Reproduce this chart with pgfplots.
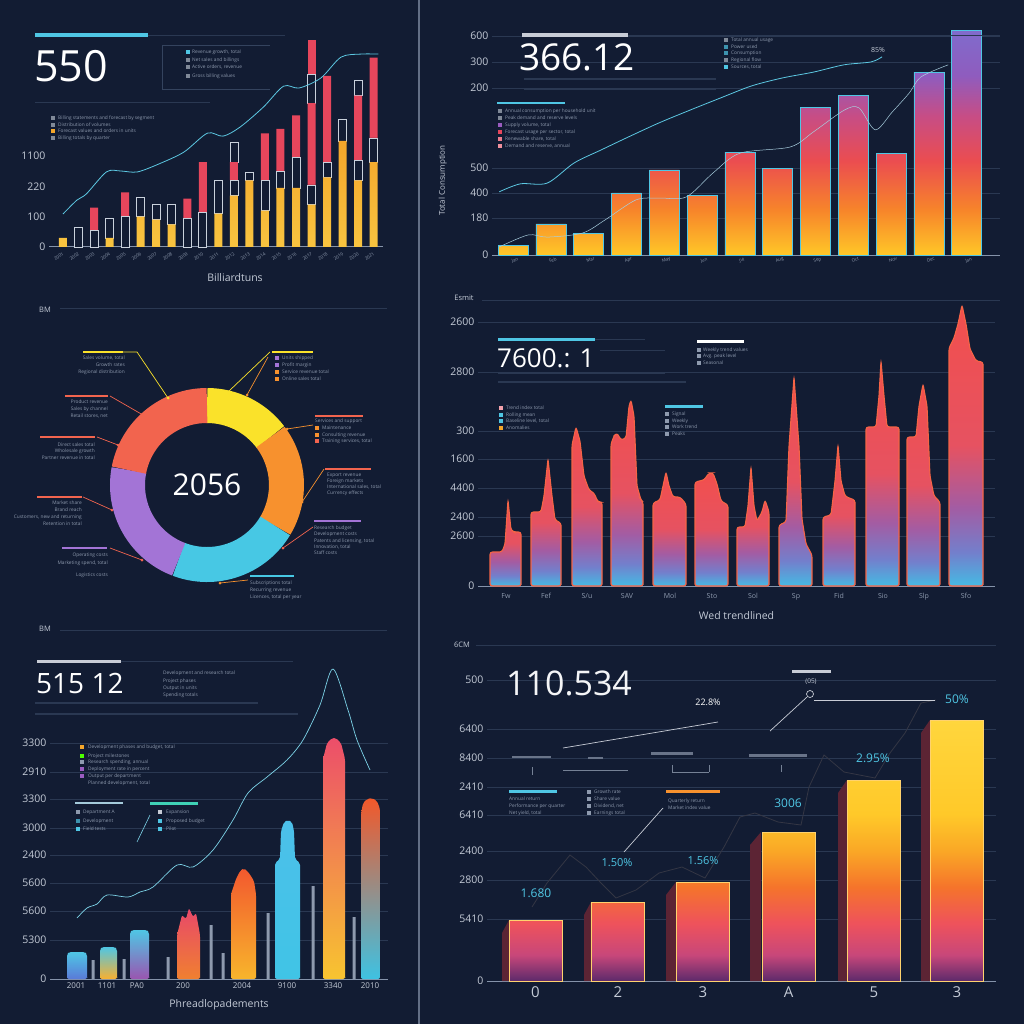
\documentclass[border=0pt]{standalone}
\usepackage{fontspec}
\setmainfont{Open Sans}
\usepackage{pgfplots}
\usepackage{pgfplotstable}
\pgfplotsset{compat=1.18}

\definecolor{bg}{HTML}{121C33}
\definecolor{gridc}{HTML}{2A3852}
\definecolor{boxc}{HTML}{34435E}
\definecolor{axc}{HTML}{8593AA}
\definecolor{tickc}{HTML}{C3CAD6}
\definecolor{faint}{HTML}{8E9AAE}
\definecolor{cyanl}{HTML}{5CC8E2}
\definecolor{cbar}{HTML}{4FC6E4}
\definecolor{orng}{HTML}{F4A62A}
\definecolor{orng2}{HTML}{F8C440}
\definecolor{redb}{HTML}{E6465C}
\definecolor{hol}{HTML}{C9D1DC}
\definecolor{yel}{HTML}{FFC928}
\definecolor{pur}{HTML}{9A5CC0}
\definecolor{coral}{HTML}{F2664B}
\definecolor{donutY}{HTML}{FAE22A}
\definecolor{donutO}{HTML}{F7912E}
\definecolor{donutC}{HTML}{47C8E4}
\definecolor{donutP}{HTML}{A374D6}
\definecolor{donutR}{HTML}{F2644E}
\definecolor{lgrey}{HTML}{C8CCD6}
\definecolor{spkline}{HTML}{F56446}
\definecolor{side}{HTML}{5C2434}
\definecolor{fedge}{HTML}{FFD26E}
\definecolor{dline}{HTML}{343644}
% shading stops
\definecolor{fb0}{HTML}{5C2A6B}
\definecolor{fb1}{HTML}{C8477A}
\definecolor{fb2}{HTML}{EE525C}
\definecolor{fb3}{HTML}{F5742B}
\definecolor{fb4}{HTML}{FAA826}
\definecolor{fb5}{HTML}{FFC929}
\definecolor{fb6}{HTML}{FFD63D}
\definecolor{pb0}{HTML}{FFC728}
\definecolor{pb1}{HTML}{F7852A}
\definecolor{pb2}{HTML}{EB4D50}
\definecolor{pb3}{HTML}{C74D85}
\definecolor{pb4}{HTML}{8F5CBE}
\definecolor{pb5}{HTML}{806BCC}
\definecolor{sb0}{HTML}{45BAE3}
\definecolor{sb1}{HTML}{737FCC}
\definecolor{sb2}{HTML}{A35CA3}
\definecolor{sb3}{HTML}{E65261}
\definecolor{sb4}{HTML}{F24F4D}

% shadings: visible part of the path runs from 25bp (bottom) to 75bp (top)
\pgfdeclareverticalshading{fbar}{100bp}{color(0bp)=(fb0); color(25bp)=(fb0);
  color(30bp)=(fb1); color(36bp)=(fb2); color(43bp)=(fb3); color(50bp)=(fb4);
  color(57bp)=(fb5); color(75bp)=(fb6); color(100bp)=(fb6)}
\pgfdeclareverticalshading{pbar}{100bp}{color(0bp)=(pb0); color(25bp)=(pb0);
  color(35bp)=(pb1); color(46bp)=(pb2); color(56bp)=(pb3); color(65bp)=(pb4);
  color(75bp)=(pb5); color(100bp)=(pb5)}
\pgfdeclareverticalshading{sbar}{100bp}{color(0bp)=(sb0); color(25bp)=(sb0);
  color(31bp)=(sb1); color(39bp)=(sb2); color(50bp)=(sb3); color(75bp)=(sb4);
  color(100bp)=(sb4)}

\newcommand\row[4]{\node[anchor=west,inner sep=0pt,text=#4,font=\fontsize{4.8}{5}\selectfont] at (#1,#2) {#3};}
\newcommand\rowe[4]{\node[anchor=east,inner sep=0pt,text=#4,font=\fontsize{4.8}{5}\selectfont] at (#1,#2) {#3};}
\newcommand\sq[3]{\fill[#3] (#1-2.2,#2-1.6) rectangle (#1+2.2,#2+1.6);}

\pgfplotsset{
  panel/.style={
    scale only axis, anchor=south west, clip=false,
    axis x line*=bottom, axis y line*=left,
    x axis line style={draw=axc, line width=1pt, -},
    y axis line style={draw=none},
    major tick length=0pt,
    tick label style={text=tickc, font=\fontsize{10.5}{12}\selectfont},
    ymajorgrids, grid style={draw=gridc, line width=0.6pt},
    xlabel style={text=tickc, font=\fontsize{10.5}{12}\selectfont},
    ylabel style={text=tickc, font=\fontsize{8}{9}\selectfont},
  },
  overlay/.style={scale only axis, anchor=south west, hide axis, clip=false},
}

% ---------- data ----------
\pgfplotstableread{
i o h r hh rr
0 30 0 0 0 0
1 0 65 0 0 0
2 0 55 75 0 0
3 30 65 0 0 0
4 0 100 80 0 0
5 100 65 0 0 0
6 90 50 0 0 0
7 75 65 0 0 0
8 0 95 65 0 0
9 0 115 165 0 0
10 110 110 0 0 0
11 170 50 60 65 0
12 220 25 0 0 0
13 120 100 155 0 0
14 195 55 140 0 0
15 195 100 140 0 0
16 140 65 270 95 115
17 230 50 285 0 0
18 350 70 0 0 0
19 220 65 215 50 0
20 280 80 265 0 0
}\pone

\begin{document}
\begin{tikzpicture}
\useasboundingbox (0pt,0pt) rectangle (1024pt,-1024pt);
\fill[bg] (0pt,0pt) rectangle (1024pt,-1024pt);
\begin{scope}[x=1pt,y=-1pt]
\draw[color=axc!70!bg, line width=1.6pt] (419,0) -- (419,1024);
\end{scope}

% ================= PANEL 1 =================
\begin{axis}[panel, at={(49pt,-247pt)}, width=334pt, height=212pt,
  xmin=-0.9, xmax=20.6, ymin=0, ymax=700,
  ybar stacked, bar width=8pt, ymajorgrids=false,
  ytick={0,100,200,300}, yticklabels={0,100,220,1100},
  xtick={0,...,20},
  xticklabels={2001,2002,2003,2004,2005,2006,2007,2008,2009,2010,2011,2012,2013,2014,2015,2016,2017,2018,2019,2020,2021},
  xticklabel style={rotate=35, anchor=north east, font=\fontsize{4.5}{5}\selectfont, text=faint},
  xlabel={Billiardtuns}, xlabel style={at={(axis description cs:0.557,0)}, anchor=center, yshift=-31pt}]
\addplot[draw=none, top color=orng, bottom color=orng2] table[x=i,y=o] {\pone};
\addplot[fill=bg, draw=hol, line width=0.7pt] table[x=i,y=h] {\pone};
\addplot[fill=redb, draw=none] table[x=i,y=r] {\pone};
\addplot[fill=bg, draw=hol, line width=0.7pt] table[x=i,y=hh] {\pone};
\addplot[fill=redb, draw=none] table[x=i,y=rr] {\pone};
\end{axis}
\begin{axis}[overlay, at={(49pt,-247pt)}, width=334pt, height=212pt,
  xmin=-0.9, xmax=20.6, ymin=0, ymax=700]
\addplot[cyanl, line width=0.8pt, smooth, mark=none] coordinates {
 (0,109) (0.9,155) (1.5,175) (2.8,248) (3.7,251) (4.8,248) (6.3,277) (7.8,314)
 (9.3,376) (10.3,366) (11.4,396) (12.9,462) (14.2,531) (15.2,525) (16.6,558)
 (17.9,627) (19.2,637) (20.3,637)};
\end{axis}

% ================= PANEL 2 =================
\begin{axis}[panel, at={(492pt,-255pt)}, width=508pt, height=219pt,
  xmin=-0.56, xmax=12.88, ymin=0, ymax=600,
  ytick={0,101,170,238,458,529,600}, yticklabels={0,180,400,500,200,300,600},
  xtick={0,...,12},
  xticklabels={Jan,Feb,Mar,Apr,May,Jun,Jul,Aug,Sep,Oct,Nov,Dec,Jan},
  xticklabel style={rotate=20, anchor=north, font=\fontsize{4.5}{5}\selectfont, text=faint},
  ylabel={Total Consumption}, ylabel style={at={(axis description cs:-0.097,0.34)}, anchor=center}]
\addplot[ybar, bar width=30pt, bar shift=0pt, draw=cbar, line width=0.9pt, shading=pbar] coordinates {
 (0,27) (1,85) (2,60) (3,170) (4,233) (5,162) (6,282) (7,238) (8,403) (9,438) (10,279) (11,501) (12,614)};
\addplot[cyanl, line width=0.8pt, smooth, mark=none] coordinates {
 (-0.37,173) (0.19,195) (0.9,197) (1.61,252) (2.33,288) (3.04,323) (3.86,362) (4.68,397)
 (5.48,430) (6.3,463) (7.12,485) (7.94,501) (8.75,521) (9.47,529) (9.76,543)};
\addplot[hol!70!cyanl, line width=0.5pt, smooth, mark=none] coordinates {
 (-0.37,22) (0.4,55) (0.9,49) (1.83,60) (2.43,96) (3.25,151) (3.86,156) (4.58,159)
 (5.29,225) (6.0,279) (7.33,296) (7.94,337) (8.76,397) (9.15,403) (9.58,343)
 (10.03,392) (10.48,444) (10.79,488) (11.51,521)};
\end{axis}

% ================= PANEL 3 (donut) =================
\begin{axis}[at={(207pt,-485pt)}, anchor=center, hide axis, x=1pt, y=1pt,
  xmin=-100, xmax=100, ymin=-100, ymax=100, clip=false]
% shares: 14.7, 18.9, 22.2, 22.2, 22.0 percent, clockwise from top
\draw[donutY, line width=35pt] (axis cs:0,0) ++(90:79.5pt) arc[start angle=90, end angle=37.08, radius=79.5pt];
\draw[donutO, line width=35pt] (axis cs:0,0) ++(37.08:79.5pt) arc[start angle=37.08, end angle=-30.96, radius=79.5pt];
\draw[donutC, line width=35pt] (axis cs:0,0) ++(-30.96:79.5pt) arc[start angle=-30.96, end angle=-110.88, radius=79.5pt];
\draw[donutP, line width=35pt] (axis cs:0,0) ++(-110.88:79.5pt) arc[start angle=-110.88, end angle=-190.8, radius=79.5pt];
\draw[donutR, line width=35pt] (axis cs:0,0) ++(-190.8:79.5pt) arc[start angle=-190.8, end angle=-270, radius=79.5pt];
\node[text=white, font=\fontsize{30}{30}\selectfont] at (axis cs:0,0) {2056};
\end{axis}

% ================= PANEL 4 =================
\begin{axis}[panel, at={(478pt,-586pt)}, width=517pt, height=286pt,
  xmin=478, xmax=995, ymin=0, ymax=2860,
  ytick={0,500,690,980,1270,1550,2140,2640},
  yticklabels={0,2600,2400,4400,1600,300,2800,2600},
  xtick={506,546,587,627,670,712,753,796,839,883,924,966},
  xticklabels={Fw,Fef,S/u,SAV,Mol,Sto,Sol,Sp,Fid,Sio,Slp,Sfo},
  xticklabel style={font=\fontsize{7}{8}\selectfont, text=faint, yshift=-4pt},
  xlabel={Wed trendlined}, xlabel style={at={(axis description cs:0.5,0)}, anchor=center, yshift=-30pt},
  spike/.style={draw=spkline, line width=1.1pt, rounded corners=2.5pt, shading=sbar}]
\addplot[spike] coordinates {(490,0) (490,340) (502,340) (505,420) (508,860) (511,560) (514,540) (521,540) (521,0)} \closedcycle;
\addplot[spike] coordinates {(531,0) (531,740) (541,740) (544,900) (548,1270) (552,900) (555,660) (561,630) (561,0)} \closedcycle;
\addplot[spike] coordinates {(572,0) (572,1410) (576,1590) (580,1450) (584,1100) (589,960) (594,930) (598,840) (602,840) (602,0)} \closedcycle;
\addplot[spike] coordinates {(611,0) (611,1420) (614,1500) (617,1530) (621,1460) (626,1480) (629,1800) (631,1860) (634,1700) (637,1000) (641,860) (643,840) (643,0)} \closedcycle;
\addplot[spike] coordinates {(653,0) (653,830) (660,860) (663,1000) (666,1140) (669,1000) (673,890) (680,890) (686,820) (686,0)} \closedcycle;
\addplot[spike] coordinates {(695,0) (695,1040) (704,1060) (709,1130) (713,1130) (717,1020) (721,850) (728,810) (728,0)} \closedcycle;
\addplot[spike] coordinates {(737,0) (737,590) (745,590) (748,800) (751,1190) (754,800) (757,650) (762,740) (765,860) (769,740) (769,0)} \closedcycle;
\addplot[spike] coordinates {(779,0) (779,610) (786,640) (789,1400) (794,2090) (799,1400) (802,670) (806,420) (812,310) (812,0)} \closedcycle;
\addplot[spike] coordinates {(823,0) (823,690) (831,710) (835,1050) (838,1410) (841,1050) (845,900) (849,880) (855,860) (855,0)} \closedcycle;
\addplot[spike] coordinates {(866,0) (866,1590) (876,1590) (879,1900) (881,2250) (884,1900) (887,1590) (899,1590) (899,0)} \closedcycle;
\addplot[spike] coordinates {(907,0) (907,1490) (916,1490) (919,1800) (923,2020) (927,1800) (930,1100) (934,900) (940,840) (940,0)} \closedcycle;
\addplot[spike] coordinates {(949,0) (949,2380) (954,2480) (958,2620) (962,2810) (966,2620) (970,2370) (976,2250) (983,2240) (983,0)} \closedcycle;
\end{axis}

% ================= PANEL 5 =================
\begin{axis}[panel, at={(50pt,-979pt)}, width=338pt, height=319pt,
  xmin=50, xmax=388, ymin=0, ymax=3190,
  ytick={0,390,680,960,1240,1510,1800,2070,2360},
  yticklabels={0,5300,5600,5600,2400,3000,3300,2910,3300},
  xtick={76,107,137,183,242,287,333,370},
  xticklabels={2001,1101,PA0,200,2004,9100,3340,2010},
  xticklabel style={font=\fontsize{8}{9}\selectfont},
  xlabel={Phreadlopadements}, xlabel style={at={(axis description cs:0.5,0)}, anchor=center, yshift=-26pt}]
% thin grey bars
\addplot[ybar, bar width=3pt, bar shift=0pt, fill=faint, draw=none] coordinates {
 (93,190) (124,200) (168,220) (211,540) (223,260) (268,660) (313,930) (354,620)};
% wide gradient bars
\addplot[draw=none, rounded corners=2pt, top color=cbar, middle color={rgb,255:red,124;green,107;blue,216}, bottom color={rgb,255:red,90;green,122;blue,216}]
 coordinates {(67,0) (67,250) (69,270) (85,270) (87,250) (87,0)} \closedcycle;
\addplot[draw=none, rounded corners=2pt, top color=cbar, middle color={rgb,255:red,216;green,72;blue,106}, bottom color={rgb,255:red,248;green,176;blue,48}]
 coordinates {(100,0) (100,300) (102,320) (115,320) (117,300) (117,0)} \closedcycle;
\addplot[draw=none, rounded corners=2pt, top color=cbar, middle color={rgb,255:red,142;green,107;blue,208}, bottom color={rgb,255:red,154;green,85;blue,176}]
 coordinates {(130,0) (130,470) (132,490) (147,490) (149,470) (149,0)} \closedcycle;
\addplot[draw=none, rounded corners=2pt, top color={rgb,255:red,232;green,72;blue,106}, middle color={rgb,255:red,208;green,74;blue,122}, bottom color={rgb,255:red,240;green,128;blue,48}]
 coordinates {(177,0) (177,440) (180,560) (182,640) (186,600) (189,710) (193,620) (196,660) (199,500) (200,440) (200,0)} \closedcycle;
\addplot[draw=none, rounded corners=2pt, top color={rgb,255:red,242;green,88;blue,46}, middle color={rgb,255:red,216;green,69;blue,122}, bottom color={rgb,255:red,248;green,181;blue,44}]
 coordinates {(231,0) (231,850) (236,1000) (240,1080) (244,1110) (249,1060) (254,980) (256,850) (256,0)} \closedcycle;
\addplot[draw=none, rounded corners=2pt, top color={rgb,255:red,76;green,192;blue,234}, middle color={rgb,255:red,142;green,92;blue,192}, bottom color={rgb,255:red,64;green,196;blue,230}]
 coordinates {(275,0) (275,1160) (280,1200) (281,1480) (284,1570) (288,1590) (292,1570) (294,1480) (295,1200) (300,1160) (300,0)} \closedcycle;
\addplot[draw=none, rounded corners=2pt, top color={rgb,255:red,236;green,78;blue,106}, middle color={rgb,255:red,244;green,122;blue,42}, bottom color={rgb,255:red,248;green,196;blue,48}]
 coordinates {(323,0) (323,2200) (327,2360) (332,2410) (336,2410) (341,2360) (345,2200) (345,0)} \closedcycle;
\addplot[draw=none, rounded corners=2pt, top color={rgb,255:red,242;green,88;blue,42}, middle color={rgb,255:red,163;green,84;blue,174}, bottom color={rgb,255:red,62;green,194;blue,226}]
 coordinates {(361,0) (361,1650) (363,1760) (367,1800) (372,1810) (377,1780) (380,1700) (380,0)} \closedcycle;
% line
\addplot[cyanl!80!white, line width=0.7pt, smooth, mark=none] coordinates {
 (77,610) (87,710) (97,750) (107,840) (128,820) (140,870) (153,920) (177,1140) (193,1120)
 (213,1290) (233,1590) (248,1860) (267,2020) (287,2190) (303,2390) (320,2740) (333,3100)
 (348,2690) (357,2390) (370,2090)};
\addplot[cyanl!80!white, line width=0.6pt, mark=none] coordinates {(137,1370) (150,1640)};
\end{axis}

% ================= PANEL 6 =================
\begin{axis}[panel, at={(487pt,-981pt)}, width=509pt, height=311pt,
  xmin=487, xmax=996, ymin=0, ymax=3110,
  ytick={0,620,1010,1300,1660,1940,2230,2520,3010},
  yticklabels={0,5410,2800,2400,6410,2410,8400,6400,500},
  xtick={535.5,618,703,788.5,874,957},
  xticklabels={0,2,3,A,5,3},
  xticklabel style={font=\fontsize{15}{16}\selectfont, yshift=-2pt}]
% side faces
\addplot[fill=side, draw=none] coordinates {(502,0) (502,480) (509,610) (509,0)} \closedcycle;
\addplot[fill=side, draw=none] coordinates {(584,0) (584,660) (591,790) (591,0)} \closedcycle;
\addplot[fill=side, draw=none] coordinates {(666,0) (666,860) (676,990) (676,0)} \closedcycle;
\addplot[fill=side, draw=none] coordinates {(750,0) (750,1360) (761,1490) (761,0)} \closedcycle;
\addplot[fill=side, draw=none] coordinates {(838,0) (838,1880) (847,2010) (847,0)} \closedcycle;
\addplot[fill=side, draw=none] coordinates {(921,0) (921,2480) (930,2610) (930,0)} \closedcycle;
% front faces
\addplot[ybar, bar width=53pt, bar shift=0pt, draw=fedge, line width=1pt, shading=fbar] coordinates {
 (535.5,610) (618,790) (703,990) (788.5,1490) (874,2010) (957,2610)};
% line
\addplot[dline, line width=0.8pt, mark=none] coordinates {
 (532,740) (547,980) (570,1260) (586,1140) (601,980) (616,830) (636,910) (659,1080) (682,1140)
 (705,1030) (724,1340) (740,1640) (755,1680) (778,1590) (801,1560) (809,1940) (824,2260)
 (844,2090) (875,2030) (890,2280) (905,2480) (921,2780) (936,2810)};
\end{axis}

% ================= DECORATIONS =================
\begin{scope}[x=1pt,y=-1pt]
% ---- panel 1
\draw[cbar, line width=3.5pt] (35,35) -- (148,35);
\draw[gridc, line width=0.8pt] (148,35) -- (285,35);
\node[anchor=west, inner sep=0pt, text=white, font=\fontsize{43}{43}\selectfont] at (34,66) {550};
\draw[boxc, line width=0.8pt] (270,45) -- (162,45) -- (162,89) -- (270,89);
\sq{188}{52}{cbar} \row{192}{52}{Revenue growth, total}{faint}
\sq{188}{60}{hol!60!bg} \row{192}{60}{Net sales and billings}{faint}
\sq{188}{67}{hol!60!bg} \row{192}{67}{Active orders, revenue}{faint}
\sq{188}{76}{hol!60!bg} \row{192}{76}{Gross billing values}{faint}
\draw[gridc, line width=0.8pt] (35,102) -- (210,102);
\sq{53}{118}{hol!60!bg} \row{58}{118}{Billing statements and forecast by segment}{faint}
\sq{53}{125}{hol!60!bg} \row{58}{125}{Distribution of volumes}{faint}
\sq{53}{131}{orng} \row{58}{131}{Forecast values and orders in units}{faint}
\sq{53}{138}{hol!60!bg} \row{58}{138}{Billing totals by quarter}{faint}

% ---- panel 2
\draw[lgrey, line width=3.5pt] (522,35) -- (628,35);
\draw[gridc, line width=0.8pt] (628,35) -- (1000,35);
\node[anchor=west, inner sep=0pt, text=white, font=\fontsize{37}{37}\selectfont] at (519,57) {366.12};
\draw[gridc, line width=1.3pt] (524,79) -- (716,79);
\draw[gridc, line width=1.3pt] (524,89) -- (716,89);
\sq{726}{40}{hol!60!bg} \row{731}{40}{Total annual usage}{faint}
\sq{726}{47}{cbar!70!bg} \row{731}{47}{Power used}{faint}
\sq{726}{53}{cbar!70!bg} \row{731}{53}{Consumption}{faint}
\sq{726}{60}{hol!60!bg} \row{731}{60}{Regional flow}{faint}
\sq{726}{67}{cbar} \row{731}{67}{Sources, total}{faint}
\node[text=tickc, font=\fontsize{7}{8}\selectfont] at (878,50) {85\%};
\draw[cbar, line width=2.5pt] (497,103) -- (565,103);
\sq{500}{111}{hol!60!bg} \row{505}{111}{Annual consumption per household unit}{faint}
\sq{500}{118}{hol!60!bg} \row{505}{118}{Peak demand and reserve levels}{faint}
\sq{500}{125}{pur} \row{505}{125}{Supply volume, total}{faint}
\sq{500}{132}{redb} \row{505}{132}{Forecast usage per sector, total}{faint}
\sq{500}{139}{redb!70!white} \row{505}{139}{Renewable share, total}{faint}
\sq{500}{146}{redb!60!white} \row{505}{146}{Demand and reserve, annual}{faint}

% ---- panel 3
\node[text=tickc, font=\fontsize{7.5}{8}\selectfont] at (45,310) {BM};
\draw[gridc, line width=0.8pt] (60,308) -- (387,308);
% A
\draw[donutY, line width=2pt] (83,352) -- (123,352);
\draw[donutY, line width=0.7pt] (123,352) -- (137,352) -- (168,398); \fill[donutY] (168,398) circle (1.5);
\rowe{125}{358}{Sales volume, total}{faint} \rowe{125}{365}{Growth rates}{faint} \rowe{125}{372}{Regional distribution}{faint}
% B
\draw[donutY, line width=2pt] (272,352) -- (313,352);
\draw[donutY, line width=0.7pt] (270,352) -- (228,392); \fill[donutY] (228,392) circle (1.5);
\draw[donutO, line width=0.7pt] (268,357) -- (247,395); \fill[donutO] (247,395) circle (1.5);
\sq{277}{358}{donutP} \row{282}{358}{Units shipped}{faint}
\sq{277}{365}{donutP} \row{282}{365}{Profit margin}{faint}
\sq{277}{372}{donutO} \row{282}{372}{Service revenue total}{faint}
\sq{277}{379}{donutO} \row{282}{379}{Online sales total}{faint}
% C
\draw[donutR, line width=2pt] (65,396) -- (108,396);
\draw[donutR, line width=0.7pt] (110,396) -- (143,415); \fill[donutR] (143,415) circle (1.5);
\rowe{108}{402}{Product revenue}{faint} \rowe{108}{409}{Sales by channel}{faint} \rowe{108}{416}{Retail stores, net}{faint}
% D
\draw[donutR, line width=2pt] (40,437) -- (95,437);
\draw[donutR, line width=0.7pt] (97,437) -- (118,445); \fill[donutR] (118,445) circle (1.5);
\rowe{95}{445}{Direct sales total}{faint} \rowe{95}{451}{Wholesale growth}{faint} \rowe{95}{458}{Partner revenue in total}{faint}
% E
\draw[donutR, line width=2pt] (37,497) -- (82,497);
\draw[donutR, line width=0.7pt] (83,497) -- (112,510); \fill[donutR] (112,510) circle (1.5);
\rowe{82}{503}{Market share}{faint} \rowe{82}{510}{Brand reach}{faint} \rowe{82}{517}{Customers, new and returning}{faint} \rowe{82}{524}{Retention in total}{faint}
% F
\draw[donutP, line width=2pt] (62,548) -- (107,548);
\draw[donutR, line width=0.7pt] (110,548) -- (142,560); \fill[donutR] (142,560) circle (1.5);
\rowe{108}{555}{Operating costs}{faint} \rowe{108}{563}{Marketing spend, total}{faint} \rowe{108}{575}{Logistics costs}{faint}
% G
\draw[donutC, line width=2pt] (250,576) -- (294,576);
\draw[donutO, line width=0.7pt] (248,580) -- (220,583); \fill[donutO] (220,583) circle (1.5);
\row{250}{583}{Subscriptions total}{faint} \row{250}{590}{Recurring revenue}{faint} \row{250}{597}{Licences, total per year}{faint}
% H
\draw[donutP, line width=2pt] (314,521) -- (361,521);
\draw[donutR, line width=0.7pt] (313,527) -- (283,548); \fill[donutR] (283,548) circle (1.5);
\row{314}{528}{Research budget}{faint} \row{314}{534}{Development costs}{faint} \row{314}{541}{Patents and licensing, total}{faint} \row{314}{547}{Innovation, total}{faint} \row{314}{553}{Staff costs}{faint}
% I
\draw[donutR, line width=2pt] (325,469) -- (371,469);
\draw[donutO, line width=0.7pt] (324,469) -- (302,502); \fill[donutO] (302,502) circle (1.5);
\row{327}{475}{Export revenue}{faint} \row{327}{481}{Foreign markets}{faint} \row{327}{487}{International sales, total}{faint} \row{327}{493}{Currency effects}{faint}
% J
\draw[donutR, line width=2pt] (315,416) -- (363,416);
\draw[donutO, line width=0.7pt] (313,425) -- (287,429); \fill[donutO] (287,429) circle (1.5);
\row{315}{421}{Services and support}{faint}
\sq{317}{428}{donutO} \row{322}{428}{Maintenance}{faint}
\sq{317}{435}{donutO} \row{322}{435}{Consulting revenue}{faint}
\sq{317}{441}{donutR} \row{322}{441}{Training services, total}{faint}

% ---- panel 4
\node[text=tickc, font=\fontsize{7.5}{8}\selectfont] at (464,298) {Esmit};
\draw[gridc, line width=0.8pt] (482,300) -- (1000,300);
\draw[cbar, line width=3pt] (498,339) -- (595,339);
\draw[gridc, line width=0.8pt] (595,339) -- (645,339);
\node[anchor=west, inner sep=0pt, text=white, font=\fontsize{26}{26}\selectfont] at (497,358) {7600.: 1};
\draw[gridc, line width=0.8pt] (600,350) -- (665,350);
\draw[gridc, line width=1.2pt] (498,373) -- (665,373);
\draw[gridc, line width=1.2pt] (498,382) -- (686,382);
\draw[white, line width=3pt] (697,341) -- (744,341);
\sq{699}{350}{faint} \row{703}{350}{Weekly trend values}{faint}
\sq{699}{356}{faint} \row{703}{356}{Avg. peak level}{faint}
\sq{699}{363}{faint} \row{703}{363}{Seasonal}{faint}
\sq{501}{408}{redb!50!white} \row{506}{408}{Trend index total}{faint}
\sq{501}{415}{cbar} \row{506}{415}{Rolling mean}{faint}
\sq{501}{421}{cbar} \row{506}{421}{Baseline level, total}{faint}
\sq{501}{428}{orng} \row{506}{428}{Anomalies}{faint}
\draw[cbar, line width=3pt] (665,406) -- (703,406);
\sq{667}{414}{faint} \row{672}{414}{Signal}{faint}
\sq{667}{421}{faint} \row{672}{421}{Weekly}{faint}
\sq{667}{427}{faint} \row{672}{427}{Work trend}{faint}
\sq{667}{434}{faint} \row{672}{434}{Peaks}{faint}

% ---- panel 5
\node[text=tickc, font=\fontsize{7.5}{8}\selectfont] at (45,629) {BM};
\draw[gridc, line width=0.8pt] (60,630) -- (387,630);
\draw[lgrey, line width=3pt] (37,661) -- (121,661);
\draw[gridc, line width=0.8pt] (121,661) -- (293,661);
\node[anchor=west, inner sep=0pt, text=white, font=\fontsize{28}{28}\selectfont] at (36,683) {515 12};
\row{163}{673}{Development and research total}{faint}
\row{163}{681}{Project phases}{faint}
\row{163}{688}{Output in units}{faint}
\row{163}{695}{Spending totals}{faint}
\draw[gridc, line width=1.2pt] (35,703) -- (258,703);
\draw[gridc, line width=1.2pt] (35,714) -- (298,714);
\sq{82}{747}{orng} \row{88}{747}{Development phases and budget, total}{faint}
\sq{82}{756}{green!70!yellow} \row{88}{756}{Project milestones}{faint}
\sq{82}{762}{faint} \row{88}{762}{Research spending, annual}{faint}
\sq{82}{769}{pur} \row{88}{769}{Deployment rate in percent}{faint}
\sq{82}{776}{pur} \row{88}{776}{Output per department}{faint}
\row{88}{783}{Planned development, total}{faint}
\draw[lgrey!70!cbar, line width=2pt] (75,803) -- (123,803);
\sq{78}{812}{faint} \row{83}{812}{Department A}{faint}
\sq{78}{821}{cbar!70!bg} \row{83}{821}{Development}{faint}
\sq{78}{829}{cbar} \row{83}{829}{Field tests}{faint}
\draw[cbar!80!green, line width=3pt] (150,803) -- (198,803);
\sq{160}{812}{lgrey} \row{166}{812}{Expansion}{faint}
\sq{160}{821}{cbar} \row{166}{821}{Proposed budget}{faint}
\sq{160}{829}{cbar} \row{166}{829}{Pilot}{faint}

% ---- panel 6
\node[text=tickc, font=\fontsize{7.5}{8}\selectfont] at (462,645) {6CM};
\draw[gridc, line width=0.8pt] (476,645) -- (996,645);
\node[anchor=west, inner sep=0pt, text=white!90!faint, font=\fontsize{34}{34}\selectfont] at (506,683) {110.534};
\draw[lgrey, line width=3pt] (792,671) -- (831,671);
\node[text=tickc, font=\fontsize{6.5}{7}\selectfont] at (811,682) {(05)};
\draw[lgrey, line width=0.7pt] (810,694) circle (3.5);
\draw[lgrey, line width=0.7pt] (807,697) -- (770,731);
\draw[lgrey, line width=0.7pt] (814,700) -- (935,700);
\node[text=white, font=\fontsize{9}{10}\selectfont] at (708,702) {22.8\%};
\draw[lgrey, line width=0.7pt] (563,748) -- (718,722);
\draw[faint!70!bg, line width=2.5pt] (512,757) -- (551,757);
\draw[faint!70!bg, line width=2pt] (588,758) -- (603,758);
\draw[faint!70!bg, line width=3pt] (651,753) -- (693,753);
\draw[faint!70!bg, line width=3pt] (749,755) -- (807,755);
\draw[faint!80!bg, line width=0.7pt] (563,770) -- (628,770);
\draw[faint!80!bg, line width=0.7pt] (672,772) -- (709,772) (672,765) -- (672,772) (709,765) -- (709,772);
\draw[faint!80!bg, line width=0.7pt] (532,767) -- (532,775) (781,765) -- (781,772);
\draw[cbar, line width=3pt] (509,791) -- (557,791);
\row{509}{799}{Annual return}{faint} \row{509}{806}{Performance per quarter}{faint} \row{509}{813}{Net yield, total}{faint}
\sq{589}{792}{faint} \row{594}{792}{Growth rate}{faint}
\sq{589}{799}{faint} \row{594}{799}{Share value}{faint}
\sq{589}{806}{faint} \row{594}{806}{Dividend, net}{faint}
\sq{589}{813}{faint} \row{594}{813}{Earnings total}{faint}
\draw[donutO, line width=3pt] (666,791) -- (720,791);
\row{668}{801}{Quarterly return}{faint} \row{668}{808}{Market index value}{faint}
\draw[lgrey, line width=0.7pt] (624,852) -- (663,808);
\node[text=cbar, font=\fontsize{12}{12}\selectfont] at (536,893) {1.680};
\node[text=cbar, font=\fontsize{11}{11}\selectfont] at (617,863) {1.50\%};
\node[text=cbar, font=\fontsize{11}{11}\selectfont] at (703,861) {1.56\%};
\node[text=cbar, font=\fontsize{12}{12}\selectfont] at (788,803) {3006};
\node[text=cbar, font=\fontsize{12}{12}\selectfont] at (873,758) {2.95\%};
\node[text=cbar, font=\fontsize{12}{12}\selectfont] at (957,699) {50\%};
\end{scope}
\end{tikzpicture}
\end{document}
